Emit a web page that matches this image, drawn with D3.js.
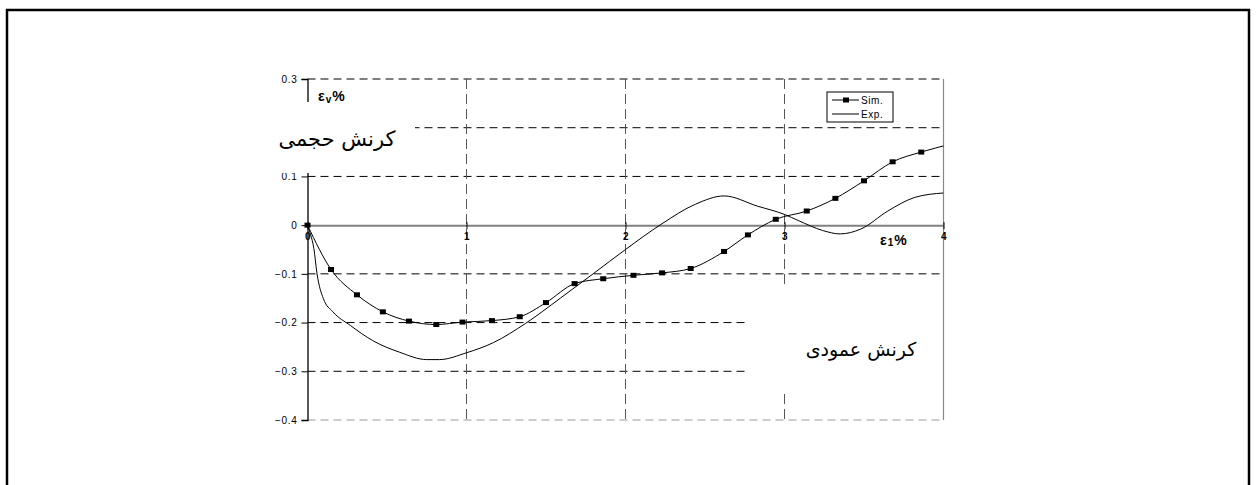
<!DOCTYPE html>
<html>
<head>
<meta charset="utf-8">
<script src="https://cdn.jsdelivr.net/npm/d3@7"></script>
<style>
  html, body { margin: 0; padding: 0; background: #fff; }
  svg { display: block; }
  .tick-label { font-family: Arial, "Liberation Sans", sans-serif; font-size: 10px; letter-spacing: 0.7px; fill: #000; }
  .fa { font-family: "DejaVu Sans", sans-serif; fill: #000; }
</style>
</head>
<body>
<svg id="chart" width="1256" height="485"></svg>
<script>
// Sim. (markers)
const simX = [0, 0.148, 0.311, 0.474, 0.638, 0.81, 0.975, 1.16, 1.335, 1.50, 1.68, 1.86, 2.05, 2.23, 2.41, 2.62, 2.77, 2.945, 3.14, 3.32, 3.50, 3.68, 3.86, 4.04];
const simY = [0, -0.091, -0.143, -0.178, -0.197, -0.204, -0.199, -0.196, -0.188, -0.159, -0.12, -0.11, -0.103, -0.098, -0.089, -0.054, -0.02, 0.012, 0.029, 0.055, 0.091, 0.13, 0.15, 0.166];

// Exp. (plain line)
const expX = [0, 0.02, 0.04, 0.06, 0.10, 0.16, 0.27, 0.41, 0.58, 0.75, 0.83, 1.0, 1.17, 1.37, 1.59, 1.80, 2.0, 2.23, 2.44, 2.62, 2.83, 3.0, 3.09, 3.24, 3.35, 3.48, 3.65, 3.82, 4.0];
const expY = [0, -0.02, -0.048, -0.1, -0.151, -0.178, -0.206, -0.237, -0.261, -0.276, -0.276, -0.262, -0.241, -0.202, -0.15, -0.099, -0.05, 0.003, 0.043, 0.06, 0.039, 0.022, 0.009, -0.011, -0.018, -0.008, 0.029, 0.057, 0.066];

const xTicks = [0, 1, 2, 3, 4];
const yTicks = [0.3, 0.2, 0.1, 0, -0.1, -0.2, -0.3, -0.4];
const seriesNames = ["Sim.", "Exp."];
const yLabelFa = "کرنش حجمی";
const xLabelFa = "کرنش عمودی";

const svg = d3.select("#chart");

// outer frame
svg.append("rect")
    .attr("x", 7).attr("y", 10)
    .attr("width", 1242).attr("height", 490)
    .attr("fill", "none").attr("stroke", "#000").attr("stroke-width", 2.5);

const x = d3.scaleLinear().domain([0, 4]).range([307.5, 943.5]);
const y = d3.scaleLinear().domain([-0.4, 0.3]).range([420, 79]);

// horizontal grid (dashed)
svg.append("g").selectAll("line")
    .data(yTicks.filter(d => d !== 0))
    .enter().append("line")
        .attr("x1", x(0)).attr("x2", x(4))
        .attr("y1", d => y(d)).attr("y2", d => y(d))
        .attr("stroke", d => d === -0.4 ? "#999" : "#000")
        .attr("stroke-width", 1)
        .attr("stroke-dasharray", "8,5");

// vertical grid (dashed)
svg.append("g").selectAll("line")
    .data(xTicks.filter(d => d > 0 && d < 4))
    .enter().append("line")
        .attr("x1", d => x(d)).attr("x2", d => x(d))
        .attr("y1", y(0.3)).attr("y2", y(-0.4))
        .attr("stroke", "#555")
        .attr("stroke-width", 1)
        .attr("stroke-dasharray", "10,5");

// right border
svg.append("line")
    .attr("x1", x(4)).attr("x2", x(4))
    .attr("y1", y(0.3)).attr("y2", y(-0.4))
    .attr("stroke", "#888").attr("stroke-width", 1.2);

// y axis (0.2 label is hidden under the Persian label in the original)
const yAxis = d3.axisLeft(y).tickValues(yTicks).tickSize(6).tickPadding(4)
    .tickFormat(d => d === 0 ? "0" : (d === 0.2 ? "" : d3.format(".1f")(d)));
const gy = svg.append("g").attr("transform", `translate(${x(0)},0)`).call(yAxis);
gy.select(".domain").attr("stroke", "#000").attr("stroke-width", 1.3);
gy.selectAll(".tick line").attr("stroke", "#000");
gy.selectAll(".tick text").attr("class", "tick-label").attr("font-family", null).attr("font-size", null);

// x axis along zero
const xAxis = d3.axisBottom(x).tickValues(xTicks).tickSizeInner(4).tickSizeOuter(0).tickPadding(4)
    .tickFormat(d3.format("d"));
const gx = svg.append("g").attr("transform", `translate(0,${y(0)})`).call(xAxis);
gx.select(".domain").attr("stroke", "#808080").attr("stroke-width", 2);
gx.selectAll(".tick line").attr("stroke", "#000").attr("y1", -3);
gx.selectAll(".tick text").attr("class", "tick-label").attr("font-family", null).attr("font-size", null)
    .attr("font-weight", "bold");

// white boxes behind the Persian labels (they hide grid in the original)
svg.append("rect").attr("x", 268).attr("y", 102).attr("width", 147).attr("height", 71).attr("fill", "#fff");
svg.append("rect").attr("x", 746).attr("y", 284).attr("width", 196).attr("height", 108).attr("fill", "#fff");

svg.append("text").attr("class", "fa")
    .attr("x", 337).attr("y", 146).attr("text-anchor", "middle").attr("font-size", 21)
    .text(yLabelFa);
svg.append("text").attr("class", "fa")
    .attr("x", 861).attr("y", 356).attr("text-anchor", "middle").attr("font-size", 19)
    .text(xLabelFa);

// epsilon labels
const ev = svg.append("text")
    .attr("x", 318).attr("y", 101).attr("letter-spacing", 1)
    .attr("font-family", "Arial, sans-serif").attr("font-weight", "bold").attr("font-size", 14);
ev.append("tspan").text("ε");
ev.append("tspan").attr("font-size", 10).attr("dy", 2).text("v");
ev.append("tspan").attr("dy", -2).text("%");

const e1 = svg.append("text")
    .attr("x", 880).attr("y", 245).attr("letter-spacing", 1)
    .attr("font-family", "Arial, sans-serif").attr("font-weight", "bold").attr("font-size", 14);
e1.append("tspan").text("ε");
e1.append("tspan").attr("font-size", 10).attr("dy", 1).text("1");
e1.append("tspan").attr("dy", -1).text("%");

// curves
svg.append("clipPath").attr("id", "plot-clip")
    .append("rect").attr("x", x(0) - 5).attr("y", y(0.3)).attr("width", x(4) - x(0) + 5).attr("height", y(-0.4) - y(0.3));

const simData = simX.map((d, i) => ({x: d, y: simY[i]}));
const expData = expX.map((d, i) => ({x: d, y: expY[i]}));

const line = d3.line().x(d => x(d.x)).y(d => y(d.y)).curve(d3.curveMonotoneX);

const plot = svg.append("g").attr("clip-path", "url(#plot-clip)");
plot.append("path").datum(expData)
    .attr("d", line).attr("fill", "none").attr("stroke", "#000").attr("stroke-width", 1);
plot.append("path").datum(simData)
    .attr("d", line).attr("fill", "none").attr("stroke", "#000").attr("stroke-width", 1);
plot.selectAll("rect.mk").data(simData).enter().append("rect")
    .attr("class", "mk")
    .attr("x", d => x(d.x) - 3).attr("y", d => y(d.y) - 2.5)
    .attr("width", 6).attr("height", 5)
    .attr("fill", "#000");

// legend
const lg = svg.append("g").attr("transform", "translate(827,92)");
lg.append("rect").attr("width", 66).attr("height", 30)
    .attr("fill", "#fff").attr("stroke", "#000").attr("stroke-width", 1);
seriesNames.forEach((name, i) => {
    const yy = 8 + i * 14;
    lg.append("line").attr("x1", 5).attr("x2", 32).attr("y1", yy).attr("y2", yy)
        .attr("stroke", "#000").attr("stroke-width", 1);
    if (i === 0)
        lg.append("rect").attr("x", 16).attr("y", yy - 2.5).attr("width", 6).attr("height", 5).attr("fill", "#000");
    lg.append("text").attr("x", 34).attr("y", yy + 3.5).attr("letter-spacing", 0.6)
        .attr("font-family", "Arial, sans-serif").attr("font-size", 10)
        .text(name);
});
</script>
</body>
</html>
